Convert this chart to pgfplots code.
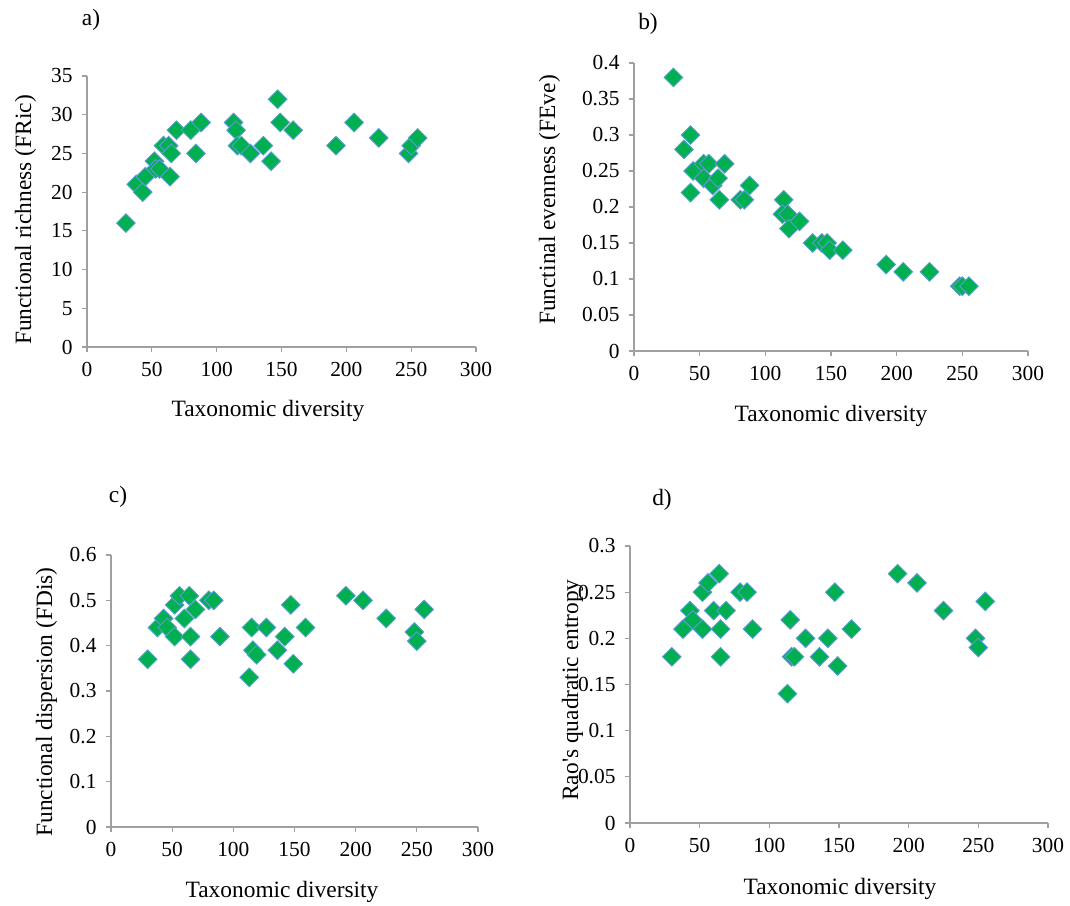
\documentclass[border=0pt]{standalone}
\usepackage{fontspec}
\setmainfont{Liberation Serif}[Ligatures=TeXOff]
\usepackage{pgfplots}
\pgfplotsset{compat=1.18}
\definecolor{axgray}{RGB}{160,160,160}
\definecolor{mkgreen}{RGB}{0,176,80}
\definecolor{mkblue}{RGB}{91,155,213}
\newcommand{\tickfont}{\fontsize{21.5}{24}\selectfont}
\newcommand{\labfont}{\fontsize{23.5}{26}\selectfont}
\pgfplotsset{
  panel/.style={
    scale only axis,
    anchor=south west,
    axis x line*=bottom,
    axis y line*=left,
    axis line style={-, draw=axgray, line width=1.2bp},
    tick style={draw=axgray, line width=1.2bp},
    major tick length=5bp,
    tick align=outside,
    xmin=0, xmax=300,
    xtick={0,50,100,150,200,250,300},
    ymin=0,
    tick label style={font=\tickfont},
    /pgf/number format/assume math mode=true,
    /pgf/number format/fixed,
    /pgf/number format/precision=2,
    yticklabel style={xshift=-6bp},
    xticklabel style={yshift=-7bp},
    clip=false,
  },
  pts/.style={only marks, mark=square*, mark size=6.6bp,
    mark options={rotate=45, fill=mkgreen, draw=mkblue, line width=0.9bp}},
}
\begin{document}
\begin{tikzpicture}
\path[use as bounding box] (0,0) rectangle (1070bp,906bp);
% a)
\begin{axis}[panel, at={(87bp,559bp)}, width=389bp, height=271bp,
  ymax=35, ytick={0,5,10,15,20,25,30,35}]
\addplot[pts] coordinates {
(30,16) (38,21) (43,20) (45,22) (52,24) (53,23) (56,23) (64,22) (59,26) (63,26)
(65,25) (69,28) (80,28) (88,29) (84,25) (113,29) (115,28) (116,26) (119,26) (126,25)
(136,26) (142,24) (147,32) (149,29) (159,28) (192,26) (206,29) (225,27) (248,25) (250,26) (255,27)
};
\end{axis}
% b)
\begin{axis}[panel, at={(634bp,555bp)}, width=394bp, height=288bp,
  ymax=0.4, ytick={0,0.05,0.1,0.15,0.2,0.25,0.3,0.35,0.4}]
\addplot[pts] coordinates {
(30,0.38) (43,0.30) (38,0.28) (43,0.22) (45,0.25) (53,0.26) (57,0.26) (53,0.24) (60,0.23) (64,0.24)
(69,0.26) (65,0.21) (81,0.21) (84,0.21) (88,0.23) (114,0.21) (113,0.19) (117,0.19) (118,0.17) (126,0.18)
(136,0.15) (143,0.15) (147,0.15) (149,0.14) (159,0.14) (192,0.12) (205,0.11) (225,0.11) (248,0.09) (250,0.09) (255,0.09)
};
\end{axis}
% c)
\begin{axis}[panel, at={(111bp,79bp)}, width=367bp, height=272bp,
  ymax=0.6, ytick={0,0.1,0.2,0.3,0.4,0.5,0.6}]
\addplot[pts] coordinates {
(30,0.37) (38,0.44) (43,0.46) (46,0.44) (52,0.42) (52,0.49) (56,0.51) (60,0.46) (64,0.51) (65,0.42)
(65,0.37) (69,0.48) (80,0.50) (84,0.50) (89,0.42) (113,0.33) (115,0.44) (116,0.39) (119,0.38) (127,0.44)
(136,0.39) (142,0.42) (147,0.49) (149,0.36) (159,0.44) (192,0.51) (206,0.50) (225,0.46) (248,0.43) (250,0.41) (256,0.48)
};
\end{axis}
% d)
\begin{axis}[panel, at={(630bp,83bp)}, width=418bp, height=277bp,
  ymax=0.3, ytick={0,0.05,0.1,0.15,0.2,0.25,0.3}]
\addplot[pts] coordinates {
(30,0.18) (38,0.21) (43,0.23) (45,0.22) (52,0.21) (52,0.25) (56,0.26) (60,0.23) (64,0.27) (65,0.21)
(65,0.18) (69,0.23) (79,0.25) (84,0.25) (88,0.21) (113,0.14) (115,0.22) (116,0.18) (118,0.18) (126,0.20)
(136,0.18) (142,0.20) (147,0.25) (149,0.17) (159,0.21) (192,0.27) (206,0.26) (225,0.23) (248,0.20) (250,0.19) (255,0.24)
};
\end{axis}
% panel letters
\node[font=\labfont] at (91bp,886bp) {a)};
\node[font=\labfont] at (648bp,882bp) {b)};
\node[font=\labfont] at (118bp,409bp) {c)};
\node[font=\labfont] at (662bp,406bp) {d)};
% x labels
\node[font=\labfont, anchor=base] at (268bp,489bp) {Taxonomic diversity};
\node[font=\labfont, anchor=base] at (831bp,484.5bp) {Taxonomic diversity};
\node[font=\labfont, anchor=base] at (282bp,9bp) {Taxonomic diversity};
\node[font=\labfont, anchor=base] at (840bp,12bp) {Taxonomic diversity};
% y labels
\node[font=\labfont, anchor=base, rotate=90] at (31bp,686bp) {Functional richness (FRic)};
\node[font=\labfont, anchor=base, rotate=90] at (555bp,706bp) {Functinal evenness (FEve)};
\node[font=\labfont, anchor=base, rotate=90] at (52bp,204bp) {Functional dispersion (FDis)};
\node[font=\labfont, anchor=base, rotate=90] at (578bp,216bp) {Rao's quadratic entropy};
\end{tikzpicture}
\end{document}
